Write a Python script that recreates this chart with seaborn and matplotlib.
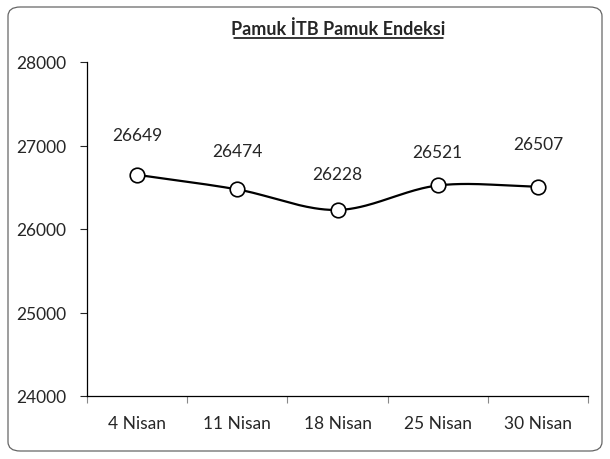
import numpy as np
import matplotlib
matplotlib.use("Agg")
import matplotlib.pyplot as plt
import seaborn as sns
from matplotlib.patches import FancyBboxPatch

# data
dates = ["4 Nisan", "11 Nisan", "18 Nisan", "25 Nisan", "30 Nisan"]
values = [26649, 26474, 26228, 26521, 26507]
label_offsets = [23, 22, 20, 18, 25]  # points above the marker

sns.set_style("white")
plt.rcParams['font.family'] = ['Lato', 'DejaVu Sans']


def smooth(xs, ys, n=40):
    # Catmull-Rom style curve, close to Excel's "smoothed line"
    xs = np.asarray(xs, float)
    ys = np.asarray(ys, float)
    px = np.concatenate([[2 * xs[0] - xs[1]], xs, [2 * xs[-1] - xs[-2]]])
    py = np.concatenate([[2 * ys[0] - ys[1]], ys, [2 * ys[-1] - ys[-2]]])
    out_x, out_y = [], []
    for i in range(1, len(px) - 2):
        t = np.linspace(0, 1, n)
        for p, out in ((px, out_x), (py, out_y)):
            p0, p1, p2, p3 = p[i - 1], p[i], p[i + 1], p[i + 2]
            out.extend(0.5 * ((2 * p1) + (-p0 + p2) * t +
                              (2 * p0 - 5 * p1 + 4 * p2 - p3) * t ** 2 +
                              (-p0 + 3 * p1 - 3 * p2 + p3) * t ** 3))
    return np.array(out_x), np.array(out_y)


fig = plt.figure(figsize=(6.1, 4.6), dpi=100)
fig.patch.set_facecolor("white")

# rounded chart border
border = FancyBboxPatch((8 / 610, 8 / 460), 594 / 610, 444 / 460,
                        boxstyle="round,pad=0,rounding_size=0.02",
                        transform=fig.transFigure, facecolor="none",
                        edgecolor="#666666", linewidth=0.9)
fig.patches.append(border)

ax = fig.add_axes([87 / 610, 63 / 460, 501 / 610, 334 / 460])

x = np.arange(len(dates))
sx, sy = smooth(x, values)
sns.lineplot(x=sx, y=sy, ax=ax, color="black", linewidth=1.6, sort=False)
sns.scatterplot(x=x, y=values, ax=ax, s=110, color="white",
                edgecolor="black", linewidth=1.2, zorder=5)

for xi, v, off in zip(x, values, label_offsets):
    ax.annotate(str(v), (xi, v), xytext=(0, off), textcoords="offset points",
                ha="center", va="bottom", fontsize=12.5)

ax.set_xlim(-0.5, len(dates) - 0.5)
ax.set_ylim(24000, 28000)
ax.set_yticks(np.arange(24000, 28001, 1000))
ax.tick_params(axis="y", labelsize=12.5, length=5, width=0.8, direction="out",
               left=True, pad=10)

# category ticks between labels, labels centered on categories
ax.set_xticks(np.arange(-0.5, len(dates), 1.0))
ax.set_xticklabels([])
ax.set_xticks(x, minor=True)
ax.set_xticklabels(dates, minor=True)
ax.tick_params(axis="x", which="major", length=5, width=0.8, color="#888888",
               direction="out", bottom=True)
ax.tick_params(axis="x", which="minor", length=0, labelsize=12.5, pad=14)

for side in ("top", "right"):
    ax.spines[side].set_visible(False)
for side in ("left", "bottom"):
    ax.spines[side].set_color("black")
    ax.spines[side].set_linewidth(0.9)

fig.text(338 / 610, 1 - 29 / 460, "Pamuk İTB Pamuk Endeksi", ha="center",
         va="center", fontsize=13, fontweight="bold")
fig.add_artist(plt.Line2D([234 / 610, 443 / 610], [1 - 39 / 460, 1 - 39 / 460],
                          color="black", linewidth=1.1))

fig.savefig("out.png", dpi=100)
